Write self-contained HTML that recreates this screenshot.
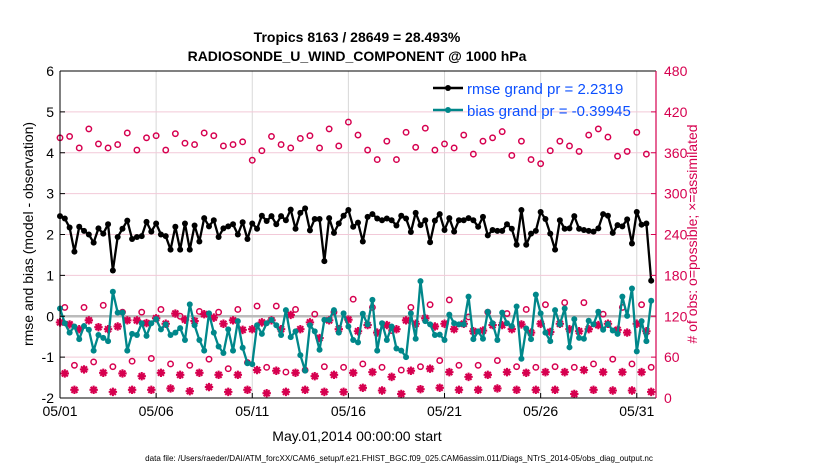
<!DOCTYPE html>
<html><head><meta charset="utf-8"><style>
body{margin:0;background:#fff;}
svg{display:block;font-family:"Liberation Sans",Arial,sans-serif;}
</style></head><body>
<svg id="chart" width="830" height="470" viewBox="0 0 830 470">
<rect width="830" height="470" fill="#fff"/>
<text x="357" y="42" text-anchor="middle" font-size="14" font-weight="bold">Tropics 8163 / 28649 = 28.493%</text>
<text x="357" y="61" text-anchor="middle" font-size="14" font-weight="bold">RADIOSONDE_U_WIND_COMPONENT @ 1000 hPa</text>
<g id="grid"></g>
<g id="marks"></g>
<g id="axes"></g>
<text transform="translate(33,234) rotate(-90)" text-anchor="middle" font-size="14">rmse and bias (model - observation)</text>
<text transform="translate(697,234) rotate(-90)" text-anchor="middle" font-size="14" fill="#d6004f"># of obs: o=possible; ×=assimilated</text>
<text x="357" y="441" text-anchor="middle" font-size="14">May.01,2014 00:00:00 start</text>
<text x="399" y="461" text-anchor="middle" font-size="8.1">data file: /Users/raeder/DAI/ATM_forcXX/CAM6_setup/f.e21.FHIST_BGC.f09_025.CAM6assim.011/Diags_NTrS_2014-05/obs_diag_output.nc</text>
<g>
<line x1="433" y1="88" x2="463" y2="88" stroke="#000" stroke-width="2.5"/>
<circle cx="448" cy="88" r="3" fill="#000"/>
<text x="467" y="94" font-size="15" fill="#0b4fff">rmse grand pr = 2.2319</text>
<line x1="433" y1="110" x2="463" y2="110" stroke="#00878a" stroke-width="2.5"/>
<circle cx="448" cy="110" r="3" fill="#00878a"/>
<text x="467" y="116" font-size="15" fill="#0b4fff">bias grand pr = -0.39945</text>
</g>
</svg>
<script>
const rmse=[2.45,2.39,2.17,1.58,2.19,2.09,2.0,1.8,2.15,2.02,2.25,1.12,1.94,2.14,2.34,1.89,1.94,1.96,2.31,2.07,2.27,2.0,1.96,1.63,2.19,1.63,2.27,1.63,2.22,1.83,2.4,2.2,2.35,1.94,2.15,2.2,2.25,2.0,2.3,1.89,2.27,2.14,2.46,2.33,2.45,2.25,2.45,2.35,2.61,2.14,2.53,2.64,2.1,2.38,2.38,1.35,2.4,2.04,2.27,2.46,2.6,2.19,2.29,1.83,
2.43,2.5,2.39,2.35,2.39,2.35,2.22,2.46,2.39,2.06,2.53,2.23,2.35,1.81,2.34,2.5,2.11,2.4,2.07,2.35,2.35,2.4,2.35,2.19,2.43,1.98,2.11,2.09,2.09,2.25,2.14,1.75,2.6,1.75,2.02,2.09,2.55,2.38,2.02,1.63,2.35,2.14,2.15,2.45,2.14,2.11,2.09,2.07,2.15,2.5,2.46,2.04,2.23,2.2,2.37,1.78,2.55,2.24,2.27,0.87];
const bias=[0.19,-0.17,-0.4,-0.25,-0.56,-0.24,-0.33,-0.84,-0.46,-0.53,-0.61,0.6,0.09,0.09,-0.84,-0.43,-0.46,-0.17,-0.48,-0.17,-0.07,-0.32,-0.2,-0.46,-0.4,-0.29,-0.58,0.29,-0.22,-0.58,-0.84,0.07,-0.4,-0.74,-0.9,-0.32,-0.84,-0.12,-0.77,-1.15,-1.17,-0.22,-0.43,-0.17,-0.09,-0.22,-0.46,0.15,-0.51,-0.37,-0.95,-1.33,-0.22,-0.37,-0.82,-0.09,-0.09,0.15,-0.4,0.07,-0.25,-0.58,-0.64,0.06,
-0.2,0.4,-0.84,-0.17,-0.58,-0.25,-0.79,-0.84,-1.0,0.07,-0.55,0.86,-0.12,-0.2,-0.46,-0.45,-0.58,0.04,-0.17,-0.2,-0.2,0.48,-0.56,-0.37,-0.55,0.11,-0.17,-0.58,0.09,-0.17,-0.24,0.24,-1.04,-0.3,-0.56,0.53,0.07,-0.4,-0.61,0.15,-0.2,0.19,-0.76,-0.07,-0.53,-0.55,-0.11,-0.2,0.11,-0.33,-0.19,-0.35,-0.43,0.48,0.01,0.68,-0.86,-0.12,-0.61,0.38];
const possible=[382,133,384,48,367,133,395,53,373,136,367,46,372,126,389,54,364,126,382,58,385,130,364,50,388,120,374,48,372,127,389,57,385,126,370,43,372,130,376,52,349,135,363,45,384,135,372,38,367,130,381,41,385,123,367,46,395,126,370,45,405,145,386,50,
364,133,350,45,377,99,350,41,390,133,368,46,396,137,364,55,373,144,367,48,386,119,358,48,377,126,382,55,391,124,356,46,377,130,350,45,344,137,363,46,377,140,370,45,362,140,386,50,395,123,383,57,355,133,362,50,390,137,358,45];
const assimilated=[111,36,108,12,101,42,114,12,104,37,101,9,105,36,114,12,114,32,110,12,117,37,109,14,124,34,115,10,113,37,123,16,118,34,109,9,114,34,100,12,101,41,111,7,114,40,101,9,122,37,101,12,111,32,88,9,114,34,101,9,115,37,98,15,
107,38,96,11,107,31,101,6,114,40,109,13,117,43,105,15,109,38,101,12,109,31,98,12,99,34,107,14,107,38,101,12,108,37,96,12,109,38,97,12,109,38,101,6,98,41,101,12,107,38,109,11,100,38,96,11,109,38,98,9];
const xTickLabels=["05/01","05/06","05/11","05/16","05/21","05/26","05/31"];
const xTickDays=[0,5,10,15,20,25,30];
const yTicks=[-2,-1,0,1,2,3,4,5,6];
const y2Ticks=[0,60,120,180,240,300,360,420,480];

const NS="http://www.w3.org/2000/svg";
const L=60,R=656,T=71,B=398;
const xS=d=>L+(d/31)*(R-L);
const yS=v=>B-(v+2)/8*(B-T);
const y2S=v=>B-v/480*(B-T);
const tDay=i=>i*0.25;
function mk(tag,attrs,parent){const e=document.createElementNS(NS,tag);for(const k in attrs)e.setAttribute(k,attrs[k]);parent.appendChild(e);return e;}
const grid=document.getElementById('grid'),marks=document.getElementById('marks'),axes=document.getElementById('axes');
xTickDays.forEach((d,k)=>{
  const g=mk('line',{x1:xS(d),x2:xS(d),y1:T,y2:B,stroke:'#d8d8d8','stroke-width':1},grid);
  
  
  const t=mk('line',{x1:xS(d),x2:xS(d),y1:B,y2:B-5,stroke:'#000'},axes);
  
  
  const tx=mk('text',{x:xS(d),y:B+18,'text-anchor':'middle','font-size':14},axes);
  tx.textContent=xTickLabels[k];
  
  
});
y2Ticks.forEach(v=>{
  const g=mk('line',{x1:L,x2:R,y1:y2S(v),y2:y2S(v),stroke:'#f2c9d8','stroke-width':1},grid);
  
  
  const t=mk('line',{x1:R,x2:R-5,y1:y2S(v),y2:y2S(v),stroke:'#d6004f'},axes);
  
  
  const tx=mk('text',{x:R+8,y:y2S(v)+5,'font-size':14,fill:'#d6004f'},axes);
  tx.textContent=v;
  
  
});
yTicks.forEach(v=>{
  const t=mk('line',{x1:L,x2:L+5,y1:yS(v),y2:yS(v),stroke:'#000'},axes);
  
  
  const tx=mk('text',{x:L-6,y:yS(v)+5,'text-anchor':'end','font-size':14},axes);
  tx.textContent=v;
  
  
});
const zl=mk('line',{x1:L,x2:R,y1:yS(0),y2:yS(0),stroke:'#bbb','stroke-width':2.5},grid);


possible.forEach((v,i)=>{
  const c=mk('circle',{cx:xS(tDay(i)),cy:y2S(v),r:2.7,fill:'none',stroke:'#d6004f','stroke-width':1.5},marks);
  
  
});
assimilated.forEach((v,i)=>{
  const x=xS(tDay(i)),y=y2S(v),s=4.2,d=3;
  const p=mk('path',{d:`M${x-s},${y}H${x+s}M${x},${y-s}V${y+s}M${x-d},${y-d}L${x+d},${y+d}M${x-d},${y+d}L${x+d},${y-d}`,stroke:'#d6004f','stroke-width':2.1,fill:'none'},marks);
  
  
});
function series(arr,color,name){
  const pts=arr.map((v,i)=>xS(tDay(i))+','+yS(v)).join(' ');
  const p=mk('polyline',{points:pts,fill:'none',stroke:color,'stroke-width':2.3,'stroke-linejoin':'round'},marks);
  
  
  arr.forEach((v,i)=>{
    const c=mk('circle',{cx:xS(tDay(i)),cy:yS(v),r:3,fill:color},marks);
    
    
  });
}
series(bias,'#00878a','bias');
series(rmse,'#000','rmse');
const la=mk('line',{x1:L,x2:L,y1:T,y2:B,stroke:'#000','stroke-width':1},axes);


const ba=mk('line',{x1:L,x2:R,y1:B,y2:B,stroke:'#000','stroke-width':1},axes);


const ta=mk('line',{x1:L,x2:R,y1:T,y2:T,stroke:'#000','stroke-width':1},axes);


const ra=mk('line',{x1:R,x2:R,y1:T,y2:B,stroke:'#d6004f','stroke-width':1.2},axes);


</script>
</body></html>
